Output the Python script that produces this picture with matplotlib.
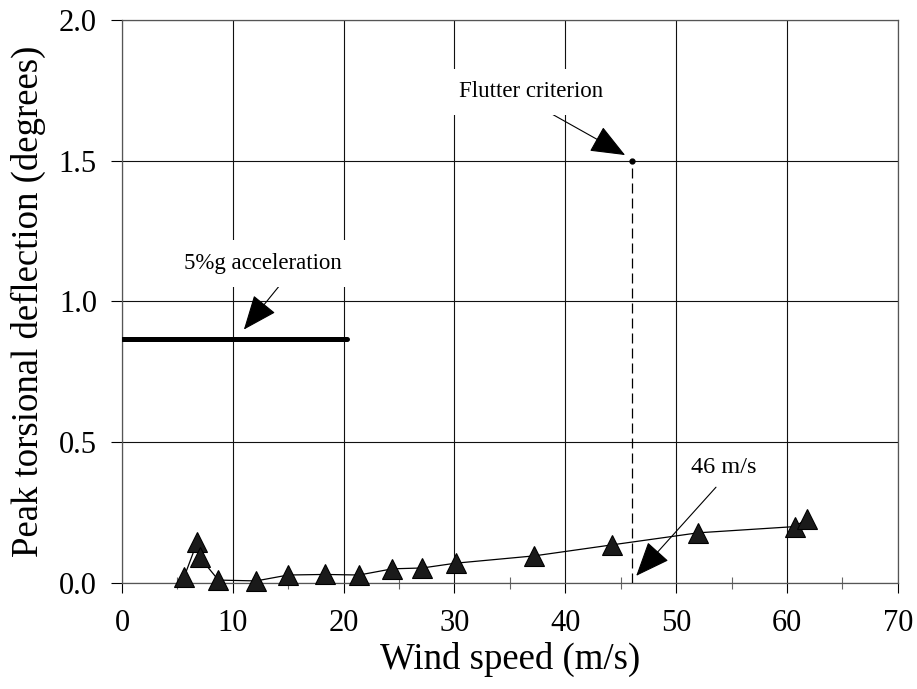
import matplotlib
matplotlib.use("Agg")
import matplotlib.pyplot as plt

# measured peak torsional deflection
wind_speed = [5.6, 6.8, 7.0, 8.7, 12.1, 15.0, 18.3, 21.4, 24.4, 27.1, 30.1,
              37.2, 44.2, 52.0, 60.7, 61.8]
deflection = [0.020, 0.146, 0.092, 0.010, 0.007, 0.028, 0.030, 0.028, 0.050,
              0.053, 0.070, 0.096, 0.135, 0.178, 0.200, 0.227]

accel_x = [0.0, 20.3]
accel_y = [0.867, 0.867]

flutter_speed = 46.0
flutter_deflection = 1.5

x_ticks = [0, 10, 20, 30, 40, 50, 60, 70]
x_minor = [5, 15, 25, 35, 45, 55, 65]
y_ticks = [0.0, 0.5, 1.0, 1.5, 2.0]

plt.rcParams["font.family"] = ["Liberation Serif", "DejaVu Serif"]

fig = plt.figure(figsize=(9.17, 6.89), dpi=100)
ax = fig.add_axes([0.133, 0.154, 0.846, 0.817])

ax.set_xlim(0, 70)
ax.set_ylim(0, 2.0)
ax.set_xticks(x_ticks)
ax.set_xticks(x_minor, minor=True)
ax.set_yticks(y_ticks)
ax.set_yticklabels([f"{v:.1f}" for v in y_ticks])
ax.grid(True, which="major", color="#111111", lw=0.8, zorder=0)
ax.tick_params(axis="x", which="major", direction="out", length=7, width=0.8,
               labelsize=22, pad=12)
ax.tick_params(axis="y", which="major", direction="out", length=8, width=0.8,
               labelsize=22, pad=10)
ax.tick_params(axis="x", which="minor", direction="inout", length=9, width=0.8,
               color="#666666")
for s in ax.spines.values():
    s.set_color("#555555")
    s.set_linewidth(0.9)

ax.plot(accel_x, accel_y, color="black", lw=3.6, solid_capstyle="round", zorder=3)
ax.plot(wind_speed, deflection, color="black", lw=0.9, marker="^", ms=14,
        mfc="#1a1a1a", mec="black", mew=0.8, zorder=4, clip_on=False)

# flutter criterion marker + dashed drop line
ax.plot([flutter_speed, flutter_speed], [0, flutter_deflection], color="black",
        lw=0.9, ls=(0, (8, 4)), zorder=3)
ax.plot([flutter_speed], [flutter_deflection], "o", color="black", ms=3.5, zorder=4)

arrow = dict(arrowstyle="-|>,head_length=2.2,head_width=0.9", color="black",
             lw=0.8, shrinkA=0, shrinkB=0, mutation_scale=10)
box = dict(fc="white", ec="none", pad=9)

ax.annotate("", xy=(11.0, 0.90), xytext=(14.5, 1.07), arrowprops=arrow, zorder=5)
ax.text(12.7, 1.135, "5%g acceleration", ha="center", va="center", fontsize=16.5,
        bbox=box, zorder=5)

ax.annotate("", xy=(45.4, 1.52), xytext=(37.7, 1.69), arrowprops=arrow, zorder=5)
ax.text(36.9, 1.745, "Flutter criterion", ha="center", va="center", fontsize=16.5,
        bbox=box, zorder=5)

ax.annotate("", xy=(46.4, 0.025), xytext=(53.6, 0.34), arrowprops=arrow, zorder=5)
ax.text(54.3, 0.41, "46 m/s", ha="center", va="center", fontsize=17.5, zorder=5)

ax.set_xlabel("Wind speed (m/s)", fontsize=26.5)
ax.set_ylabel("Peak torsional deflection (degrees)", fontsize=26.5)
ax.xaxis.set_label_coords(0.5, -0.105)
ax.yaxis.set_label_coords(-0.098, 0.5)

fig.savefig("out.png", dpi=100)
